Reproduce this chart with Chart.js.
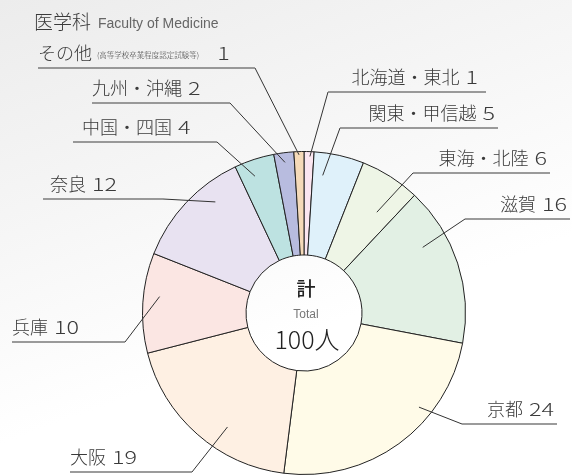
<!DOCTYPE html>
<html lang="ja">
<head>
<meta charset="utf-8">
<title>医学科 Faculty of Medicine</title>
<script src="https://cdn.jsdelivr.net/npm/chart.js@4.4.1/dist/chart.umd.min.js"></script>
<style>
  html, body {
    margin: 0;
    padding: 0;
  }
  body {
    width: 572px;
    height: 476px;
    overflow: hidden;
    background: linear-gradient(160deg, #ececec 0%, #f6f6f6 35%, #ffffff 65%);
  }
  #chart {
    display: block;
  }
</style>
</head>
<body>
<canvas id="chart" width="572" height="476"></canvas>
<script>
// Data (clockwise from 12 o'clock)
const regions = ['北海道・東北', '関東・甲信越', '東海・北陸', '滋賀', '京都', '大阪', '兵庫', '奈良', '中国・四国', '九州・沖縄', 'その他'];
const students = [1, 5, 6, 16, 24, 19, 10, 12, 4, 2, 1];
const notes = ['', '', '', '', '', '', '', '', '', '', '(高等学校卒業程度認定試験等)'];
const sliceColors = ['#fbe6f0', '#dff1fa', '#eef5e6', '#e2f0e4', '#fffbe8', '#fef0e3', '#fbe6e3', '#e8e2f1', '#bde2e1', '#b8bcdf', '#f5dab8'];

const titleJa = '医学科';
const titleEn = 'Faculty of Medicine';
const totalJa = '計';
const totalEn = 'Total';
const totalUnit = '人';

// Label layout: leader starts inside the slice (t = share of the slice angle, r = share of radius),
// runs to the elbow, then an underline runs to the far end.
const labelLayout = [
  { t: 0.60, r: 0.97, elbowX: 328, y: 92,  endX: 486, side: 'right', pad: 8 },
  { t: 0.23, r: 0.86, elbowX: 340, y: 128, endX: 498, side: 'right' },
  { t: 0.66, r: 0.77, elbowX: 413, y: 173, endX: 550, side: 'right' },
  { t: 0.31, r: 0.84, elbowX: 465, y: 219, endX: 570, side: 'right' },
  { t: 0.33, r: 0.92, elbowX: 462, y: 424, endX: 557, side: 'right' },
  { t: 0.39, r: 0.85, elbowX: 192, y: 472, endX: 70,  side: 'left' },
  { t: 0.58, r: 0.90, elbowX: 125, y: 342, endX: 12,  side: 'left' },
  { t: 0.69, r: 0.88, elbowX: 163, y: 199, endX: 43,  side: 'left', textX: 50 },
  { t: 0.38, r: 0.90, elbowX: 217, y: 142, endX: 73,  side: 'left', textX: 82 },
  { t: 0.50, r: 0.94, elbowX: 230, y: 103, endX: 92,  side: 'left' },
  { t: 0.50, r: 0.98, elbowX: 255, y: 68,  endX: 38,  side: 'left' }
];

const FONT = '"Noto Sans CJK JP", "Noto Sans", sans-serif';
const LATIN = '"Liberation Sans", Arial, sans-serif';
const LABEL_FONT = '300 18px ' + FONT;
const DIGIT_SCALE = 1.3;

// wide digits, like the rounded gothic in the original
function digitWidth(ctx, str) {
  ctx.font = LABEL_FONT;
  return ctx.measureText(str).width * DIGIT_SCALE;
}

function drawDigits(ctx, str, x, y) {
  ctx.save();
  ctx.font = LABEL_FONT;
  ctx.textAlign = 'left';
  ctx.translate(x, y);
  ctx.scale(DIGIT_SCALE, 1);
  ctx.fillText(str, 0, 0);
  ctx.restore();
}

const labelPlugin = {
  id: 'leaderLabels',
  afterDraw(chart) {
    const ctx = chart.ctx;
    const meta = chart.getDatasetMeta(0);
    ctx.save();

    meta.data.forEach((arc, i) => {
      const lay = labelLayout[i];
      const p = arc.getProps(['x', 'y', 'startAngle', 'endAngle', 'outerRadius'], true);
      const a = p.startAngle + lay.t * (p.endAngle - p.startAngle);
      const sx = p.x + Math.cos(a) * p.outerRadius * lay.r;
      const sy = p.y + Math.sin(a) * p.outerRadius * lay.r;

      // leader line
      ctx.strokeStyle = '#333';
      ctx.lineWidth = 1;
      ctx.beginPath();
      ctx.moveTo(sx, sy);
      ctx.lineTo(lay.elbowX, lay.y);
      ctx.stroke();

      // underline
      ctx.strokeStyle = '#7a7a7a';
      ctx.lineWidth = 1.6;
      ctx.beginPath();
      ctx.moveTo(lay.elbowX, lay.y);
      ctx.lineTo(lay.endX, lay.y);
      ctx.stroke();

      // text
      const ty = lay.y - 15;
      const num = String(students[i]);
      const gap = 6;
      ctx.fillStyle = '#3a3a3a';
      ctx.textBaseline = 'middle';
      ctx.font = LABEL_FONT;
      const nameW = ctx.measureText(regions[i]).width;
      const numW = digitWidth(ctx, num);
      if (lay.side === 'right') {
        const right = lay.endX - (lay.pad || 3);
        drawDigits(ctx, num, right - numW, ty);
        ctx.font = LABEL_FONT;
        ctx.textAlign = 'left';
        ctx.fillText(regions[i], right - numW - gap - nameW, ty);
      } else {
        let x = lay.textX !== undefined ? lay.textX : lay.endX;
        ctx.textAlign = 'left';
        ctx.font = LABEL_FONT;
        ctx.fillText(regions[i], x, ty);
        x += nameW;
        if (notes[i]) {
          x += 5;
          ctx.font = '300 7.5px ' + FONT;
          ctx.fillText(notes[i], x, ty + 2);
          x += ctx.measureText(notes[i]).width + 18;
        } else {
          x += gap;
        }
        drawDigits(ctx, num, x, ty);
      }
    });

    // title
    ctx.textAlign = 'left';
    ctx.textBaseline = 'alphabetic';
    ctx.fillStyle = '#3a3a3a';
    ctx.font = '300 19px ' + FONT;
    ctx.fillText(titleJa, 34, 29);
    const tw = ctx.measureText(titleJa).width;
    ctx.fillStyle = '#666';
    ctx.font = '14px ' + LATIN;
    ctx.fillText(titleEn, 34 + tw + 7, 28);

    // center total
    const c = meta.data[0];
    const total = students.reduce((s, v) => s + v, 0);
    ctx.textAlign = 'center';
    ctx.textBaseline = 'middle';
    ctx.fillStyle = '#222';
    ctx.font = '500 19px ' + FONT;
    ctx.fillText(totalJa, c.x + 2, c.y - 24);
    ctx.fillStyle = '#777';
    ctx.font = '12px ' + LATIN;
    ctx.fillText(totalEn, c.x + 2, c.y + 2);
    ctx.fillStyle = '#222';
    ctx.font = '300 25px ' + FONT;
    ctx.fillText(total + totalUnit, c.x + 3, c.y + 26);

    ctx.restore();
  }
};

const ctx = document.getElementById('chart').getContext('2d');
new Chart(ctx, {
  type: 'doughnut',
  data: {
    labels: regions,
    datasets: [{
      data: students,
      backgroundColor: sliceColors,
      borderColor: '#222',
      borderWidth: 1,
      borderAlign: 'center'
    }]
  },
  options: {
    responsive: false,
    animation: false,
    cutout: 58,
    rotation: 0,
    layout: {
      padding: { top: 151, bottom: 1, left: 142, right: 106 }
    },
    plugins: {
      legend: { display: false },
      tooltip: { enabled: false }
    }
  },
  plugins: [labelPlugin]
});
</script>
</body>
</html>
